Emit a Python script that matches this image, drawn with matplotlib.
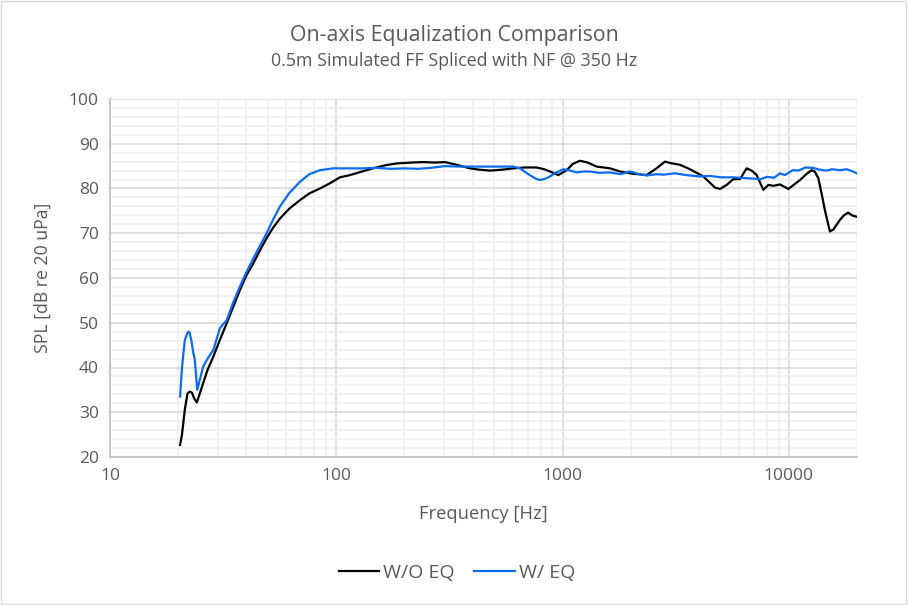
import matplotlib.pyplot as plt
from matplotlib.ticker import FixedLocator, NullFormatter
import numpy as np

plt.rcParams['font.family'] = ['Open Sans', 'DejaVu Sans']

# W/O EQ curve (frequency in Hz, SPL in dB)
freq_noeq = [20.4, 20.8, 21.4, 22.0, 22.5, 23.0, 23.6, 24.2, 24.8, 25.8, 27.0,
             28.6, 30.5, 32.8, 35.0, 37.5, 40.0, 43.0, 46.0, 49.2, 52.5, 56.4,
             62.0, 69.1, 76.0, 84.7, 94.0, 103.7, 115, 130, 145, 165, 185, 215,
             242, 272, 302, 340, 390, 430, 478, 540, 605, 680, 767, 830, 880,
             957, 1042, 1110, 1194, 1290, 1414, 1622, 1793, 2050, 2352, 2600,
             2833, 3050, 3303, 3654, 4187, 4713, 4962, 5309, 5681, 6081, 6506,
             6850, 7205, 7712, 8113, 8535, 9140, 9950, 10500, 11200, 12000,
             12600, 13000, 13490, 14000, 14420, 15180, 15700, 16820, 17500,
             18280, 19000, 19900]
spl_noeq = [22.7, 25.0, 30.5, 34.2, 34.6, 34.4, 33.0, 32.2, 33.8, 36.5, 39.5,
            42.4, 46.0, 49.9, 53.5, 57.3, 60.5, 63.3, 66.2, 68.9, 71.2, 73.3,
            75.5, 77.4, 78.9, 80.0, 81.2, 82.5, 83.0, 83.8, 84.5, 85.2, 85.6,
            85.8, 85.9, 85.8, 85.9, 85.3, 84.5, 84.2, 84.0, 84.2, 84.5, 84.7,
            84.7, 84.3, 83.8, 83.0, 84.1, 85.5, 86.2, 85.8, 84.9, 84.5, 83.8,
            83.3, 83.0, 84.5, 86.0, 85.6, 85.3, 84.3, 82.7, 80.2, 79.9, 80.8,
            82.1, 82.1, 84.5, 84.0, 83.0, 79.7, 80.8, 80.6, 80.9, 79.9, 80.8,
            81.9, 83.3, 84.1, 83.8, 82.3, 78.5, 75.2, 70.4, 70.8, 73.0, 74.0,
            74.6, 74.0, 73.7]

# W/ EQ curve
freq_eq = [20.4, 20.8, 21.4, 22.0, 22.4, 22.9, 23.3, 23.7, 24.3, 25.0, 25.8,
           27.0, 28.6, 30.6, 32.8, 35.0, 37.5, 40.0, 43.0, 46.0, 49.2, 52.5,
           56.4, 62.0, 69.1, 76.0, 84.7, 97.0, 110, 130, 150, 175, 200, 230,
           260, 302, 350, 420, 500, 605, 648, 700, 760, 794, 840, 880, 940,
           1007, 1080, 1154, 1240, 1320, 1450, 1622, 1800, 1990, 2150, 2352,
           2600, 2800, 3150, 3500, 4020, 4500, 5000, 5681, 6500, 7500, 8000,
           8600, 9140, 9600, 10400, 11000, 11860, 12800, 13700, 14640, 15500,
           16820, 18000, 19000, 19900]
spl_eq = [33.5, 40.0, 46.1, 47.8, 48.0, 46.0, 43.5, 41.7, 35.0, 37.5, 40.2,
          42.0, 43.9, 48.8, 50.6, 54.5, 58.1, 61.2, 64.4, 67.2, 70.0, 73.0,
          76.0, 79.0, 81.5, 83.2, 84.1, 84.5, 84.5, 84.5, 84.6, 84.4, 84.5,
          84.4, 84.6, 85.0, 84.9, 84.9, 84.9, 84.9, 84.5, 83.3, 82.2, 81.9,
          82.2, 82.7, 83.6, 84.3, 84.0, 83.6, 83.8, 83.8, 83.5, 83.6, 83.2,
          83.8, 83.3, 82.9, 83.2, 83.1, 83.4, 83.0, 82.7, 82.8, 82.5, 82.5,
          82.3, 82.1, 82.6, 82.4, 83.4, 83.0, 84.1, 84.0, 84.7, 84.6, 84.2,
          84.0, 84.3, 84.1, 84.3, 83.9, 83.4]

x_ticks = [10, 100, 1000, 10000]
y_ticks = [20, 30, 40, 50, 60, 70, 80, 90, 100]

text_grey = '#595959'

fig = plt.figure(figsize=(9.08, 6.05), dpi=100)
ax = fig.add_axes([110 / 908, 1 - 457 / 605, 747 / 908, 358 / 605])

ax.plot(freq_noeq, spl_noeq, color='black', lw=1.6, label='W/O EQ')
ax.plot(freq_eq, spl_eq, color='#0a6cf0', lw=1.6, label='W/ EQ')

ax.set_xscale('log')
ax.set_xlim(10, 20000)
ax.set_ylim(20, 100)
ax.xaxis.set_major_locator(FixedLocator(x_ticks))
ax.set_xticklabels([str(t) for t in x_ticks])
minor_x = [m * d for d in [10, 100, 1000, 10000] for m in range(2, 10) if m * d <= 20000]
ax.xaxis.set_minor_locator(FixedLocator(minor_x))
ax.xaxis.set_minor_formatter(NullFormatter())
ax.yaxis.set_major_locator(FixedLocator(y_ticks))
ax.yaxis.set_minor_locator(FixedLocator(np.arange(20, 101, 2)))

ax.grid(which='major', color='#d9d9d9', lw=1.2)
ax.grid(which='minor', color='#efefef', lw=1.2)
ax.set_axisbelow(True)
ax.tick_params(which='both', length=0, labelsize=12.5, labelcolor=text_grey, pad=8)

for s in ['top', 'right']:
    ax.spines[s].set_visible(False)
for s in ['left', 'bottom']:
    ax.spines[s].set_color('#bfbfbf')
    ax.spines[s].set_linewidth(1.2)

ax.set_xlabel('Frequency [Hz]', fontsize=13.2, color=text_grey, labelpad=15)
ax.set_ylabel('SPL [dB re 20 uPa]', fontsize=12.7, color=text_grey, labelpad=12)

fig.text(0.5, 1 - 35 / 605, 'On-axis Equalization Comparison', ha='center', va='center',
         fontsize=15.3, color=text_grey)
fig.text(0.5, 1 - 61 / 605, '0.5m Simulated FF Spliced with NF @ 350 Hz', ha='center',
         va='center', fontsize=12.9, color=text_grey)

leg = fig.legend(loc='center', bbox_to_anchor=(457 / 908, 1 - 573 / 605), ncol=2,
                 frameon=False, fontsize=14, handlelength=2.1, handletextpad=0.2,
                 columnspacing=1.0)
for t in leg.get_texts():
    t.set_color(text_grey)

fig.patches.append(plt.Rectangle((0.001, 0.001), 0.997, 0.997, transform=fig.transFigure,
                                 fill=False, edgecolor='#d9d9d9', lw=1))

fig.savefig('out.png', dpi=100)
